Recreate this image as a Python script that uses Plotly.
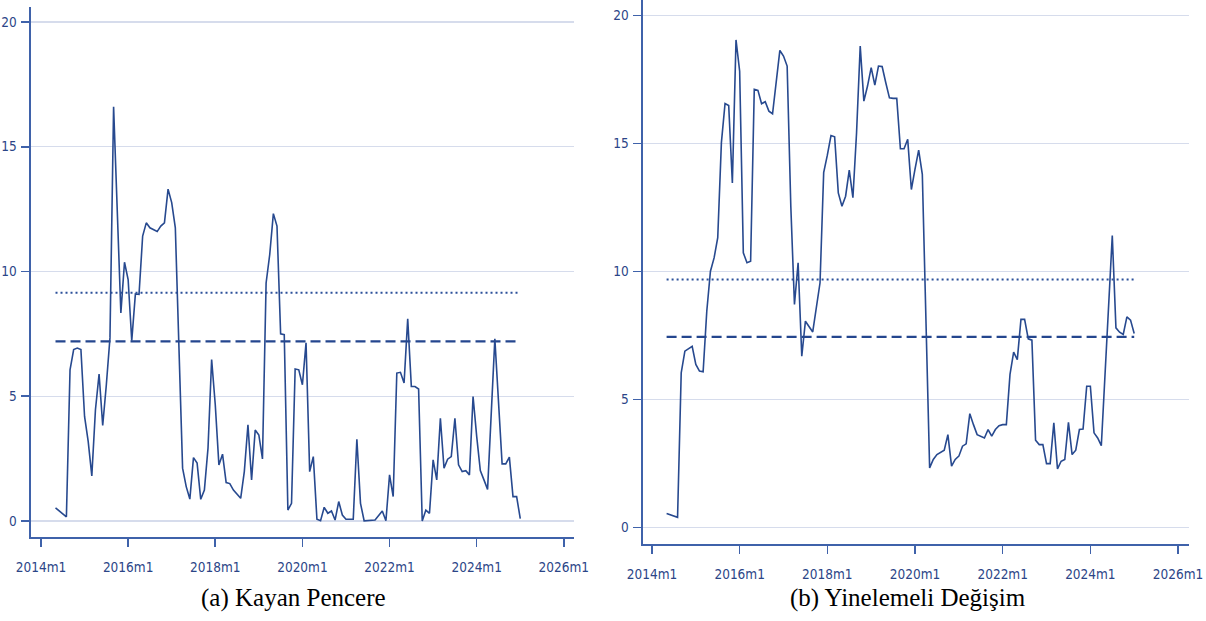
import plotly.graph_objects as go

# ---------------- data ----------------
months_a = ["2014m5", "2014m8", "2014m9", "2014m10", "2014m11", "2014m12",
            "2015m1", "2015m2", "2015m3", "2015m4", "2015m5", "2015m6", "2015m7", "2015m8",
            "2015m9", "2015m10", "2015m11", "2015m12",
            "2016m1", "2016m2", "2016m3", "2016m4", "2016m5", "2016m6", "2016m7", "2016m9",
            "2016m10", "2016m11", "2016m12",
            "2017m1", "2017m2", "2017m4", "2017m5", "2017m6", "2017m7", "2017m8", "2017m9",
            "2017m10", "2017m11", "2017m12",
            "2018m1", "2018m2", "2018m3", "2018m4", "2018m5", "2018m6", "2018m8", "2018m9",
            "2018m10", "2018m11", "2018m12",
            "2019m1", "2019m2", "2019m3", "2019m4", "2019m5", "2019m6", "2019m7", "2019m8",
            "2019m9", "2019m10", "2019m11", "2019m12",
            "2020m1", "2020m2", "2020m3", "2020m4", "2020m5", "2020m6", "2020m7", "2020m8",
            "2020m9", "2020m10", "2020m11", "2020m12",
            "2021m1", "2021m3", "2021m4", "2021m5", "2021m6", "2021m9", "2021m11", "2021m12",
            "2022m1", "2022m2", "2022m3", "2022m4", "2022m5", "2022m6", "2022m7", "2022m8",
            "2022m9", "2022m10", "2022m11", "2022m12",
            "2023m1", "2023m2", "2023m3", "2023m4", "2023m5", "2023m6", "2023m7", "2023m8",
            "2023m9", "2023m10", "2023m11", "2023m12",
            "2024m1", "2024m2", "2024m3", "2024m4", "2024m6", "2024m7", "2024m8", "2024m9",
            "2024m10", "2024m11", "2024m12", "2025m1"]
values_a = [0.53, 0.17, 6.06, 6.87, 6.93, 6.87,
            4.19, 3.19, 1.81, 4.46, 5.89, 3.83, 5.46, 7.34,
            16.6, 12.4, 8.34, 10.37,
            9.68, 7.23, 9.10, 9.08, 11.42, 11.95, 11.75, 11.60,
            11.82, 11.95, 13.30,
            12.76, 11.75, 2.12, 1.38, 0.88, 2.54, 2.32, 0.87,
            1.24, 2.92, 6.47,
            4.66, 2.25, 2.68, 1.54, 1.50, 1.24, 0.91, 1.98,
            3.86, 1.65, 3.65,
            3.45, 2.49, 9.54, 10.68, 12.32, 11.82, 7.50, 7.47,
            0.44, 0.71, 6.09, 6.06,
            5.46, 7.14, 1.98, 2.58, 0.07, 0.01, 0.55, 0.31,
            0.40, 0.04, 0.78, 0.24,
            0.07, 0.07, 3.28, 0.71, 0.01, 0.04, 0.40, 0.01,
            1.85, 0.98, 5.93, 5.96, 5.53, 8.10, 5.39, 5.39,
            5.29, 0.00, 0.44, 0.31,
            2.45, 1.65, 4.12, 2.12, 2.48, 2.58, 4.12, 2.25,
            1.98, 2.02, 1.85, 4.99,
            3.39, 2.02, 1.65, 1.27, 7.30, 4.99, 2.29, 2.29,
            2.56, 0.98, 0.98, 0.10]
mean_a = 7.2
upper_a = 9.15

months_b = ["2014m5", "2014m8", "2014m9", "2014m10", "2014m12",
            "2015m1", "2015m2", "2015m3", "2015m4", "2015m5", "2015m6", "2015m7", "2015m8",
            "2015m9", "2015m10", "2015m11", "2015m12",
            "2016m1", "2016m2", "2016m3", "2016m4", "2016m5", "2016m6", "2016m7", "2016m8",
            "2016m9", "2016m10", "2016m11", "2016m12",
            "2017m1", "2017m2", "2017m3", "2017m4", "2017m5", "2017m6", "2017m7", "2017m8",
            "2017m9", "2017m11", "2017m12",
            "2018m1", "2018m2", "2018m3", "2018m4", "2018m5", "2018m6", "2018m7", "2018m8",
            "2018m9", "2018m10", "2018m11", "2018m12",
            "2019m1", "2019m2", "2019m3", "2019m4", "2019m5", "2019m6", "2019m7", "2019m8",
            "2019m9", "2019m10", "2019m11", "2019m12",
            "2020m1", "2020m2", "2020m3", "2020m5", "2020m6", "2020m7", "2020m9", "2020m10",
            "2020m11", "2020m12",
            "2021m1", "2021m2", "2021m3", "2021m4", "2021m5", "2021m6", "2021m8", "2021m9",
            "2021m10", "2021m11", "2021m12",
            "2022m1", "2022m2", "2022m3", "2022m4", "2022m5", "2022m6", "2022m7", "2022m8",
            "2022m9", "2022m10", "2022m11", "2022m12",
            "2023m1", "2023m2", "2023m3", "2023m4", "2023m5", "2023m6", "2023m7", "2023m8",
            "2023m9", "2023m10", "2023m11", "2023m12",
            "2024m1", "2024m2", "2024m3", "2024m4", "2024m5", "2024m6", "2024m7", "2024m8",
            "2024m9", "2024m10", "2024m11", "2024m12", "2025m1"]
values_b = [0.55, 0.40, 6.04, 6.89, 7.08,
            6.37, 6.11, 6.08, 8.45, 10.01, 10.53, 11.32, 15.03,
            16.56, 16.48, 13.46, 19.04,
            17.82, 10.73, 10.34, 10.40, 17.11, 17.07, 16.55, 16.63,
            16.26, 16.16, 17.37, 18.63,
            18.41, 18.02, 12.55, 8.71, 10.34, 6.69, 8.06, 7.86,
            7.64, 9.56, 13.86,
            14.54, 15.31, 15.26, 13.07, 12.55, 12.94, 13.96, 12.88,
            15.42, 18.80, 16.65, 17.24,
            17.96, 17.28, 18.02, 18.00, 17.37, 16.78, 16.76, 16.76,
            14.79, 14.79, 15.16, 13.20,
            14.00, 14.74, 13.79, 2.33, 2.66, 2.85, 3.02, 3.63,
            2.40, 2.66,
            2.79, 3.18, 3.27, 4.45, 4.02, 3.63, 3.50, 3.83,
            3.57, 3.83, 3.98,
            4.02, 4.02, 5.98, 6.85, 6.56, 8.13, 8.13, 7.37,
            7.32, 3.41, 3.24, 3.24,
            2.50, 2.50, 4.09, 2.29, 2.59, 2.66, 4.11, 2.85,
            3.02, 3.83, 3.85, 5.52,
            5.52, 3.70, 3.50, 3.20, 6.00, 8.80, 11.40, 7.80,
            7.63, 7.54, 8.23, 8.10, 7.58]
mean_b = 7.45
upper_b = 9.69

tick_months = ["2014m1", "2016m1", "2018m1", "2020m1", "2022m1", "2024m1", "2026m1"]
y_ticks = [0, 5, 10, 15, 20]
captions = ["(a) Kayan Pencere", "(b) Yinelemeli Değişim"]


def midx(s):
    y, m = s.split("m")
    return (int(y) - 2014) * 12 + int(m) - 1


# ---------------- style ----------------
W, H = 1206, 621
LINE = "#27498f"
AXIS = "#3f62aa"
TICKTXT = "#2b4587"
GRID = "#d6dcec"
TICKFONT = dict(family="DejaVu Sans Condensed, Liberation Sans Narrow, Arial Narrow, sans-serif",
                size=13.5, color=TICKTXT)

fig = go.Figure()

panels = [
    dict(months=months_a, values=values_a, mean=mean_a, upper=upper_a,
         xpx=(31, 574), ypx=(537, 7), xr=(-2.75, 146.8), xa="x", ya="y"),
    dict(months=months_b, values=values_b, mean=mean_b, upper=upper_b,
         xpx=(643, 1189), ypx=(544, 0), xr=(-2.46, 147.0), xa="x2", ya="y2"),
]

for i, p in enumerate(panels):
    xs = [midx(m) for m in p["months"]]
    span = [xs[0], xs[-1]]
    fig.add_trace(go.Scatter(x=span, y=[p["upper"]] * 2, mode="lines",
                             line=dict(color="#2c509a", width=2, dash="2px,3px"),
                             xaxis=p["xa"], yaxis=p["ya"], hoverinfo="skip"))
    fig.add_trace(go.Scatter(x=span, y=[p["mean"]] * 2, mode="lines",
                             line=dict(color="#24468e", width=2.3, dash="10px,5px"),
                             xaxis=p["xa"], yaxis=p["ya"], hoverinfo="skip"))
    fig.add_trace(go.Scatter(x=xs, y=p["values"], mode="lines",
                             line=dict(color=LINE, width=1.6),
                             xaxis=p["xa"], yaxis=p["ya"]))

    sfx = "" if i == 0 else "2"
    fig.update_layout(**{
        "xaxis" + sfx: dict(
            domain=[p["xpx"][0] / W, p["xpx"][1] / W], range=list(p["xr"]),
            showline=True, linecolor=AXIS, linewidth=1.6,
            ticks="outside", ticklen=8, tickwidth=1.6, tickcolor=AXIS,
            tickvals=[midx(t) for t in tick_months], ticktext=tick_months,
            tickfont=TICKFONT, showgrid=False, zeroline=False, automargin=False,
            ticklabeloverflow="allow",
            anchor="y" + sfx, fixedrange=True, ticklabelstandoff=9),
        "yaxis" + sfx: dict(
            domain=[1 - p["ypx"][0] / H, 1 - p["ypx"][1] / H], range=[-0.64, 20.6],
            showline=True, linecolor=AXIS, linewidth=1.6,
            ticks="outside", ticklen=8, tickwidth=1.6, tickcolor=AXIS,
            tickvals=y_ticks, tickfont=TICKFONT, automargin=False,
            ticklabeloverflow="allow",
            showgrid=True, gridcolor=GRID, gridwidth=1.5, zeroline=False,
            anchor="x" + sfx, fixedrange=True, ticklabelstandoff=2),
    })

cap_x = [293, 908]
for cx, txt in zip(cap_x, captions):
    fig.add_annotation(text=txt, x=cx / W, y=1 - 598 / H, xref="paper", yref="paper",
                       xanchor="center", yanchor="middle", showarrow=False,
                       font=dict(family="Liberation Serif, Times New Roman, serif",
                                 size=25, color="#000000"))

fig.update_layout(width=W, height=H, margin=dict(l=0, r=0, t=0, b=0, autoexpand=False),
                  paper_bgcolor="white", plot_bgcolor="white", showlegend=False)

fig.write_html("out.html", config={"displayModeBar": False, "staticPlot": True},
               post_script="document.body.style.margin='0px';document.body.style.overflow='hidden';")
